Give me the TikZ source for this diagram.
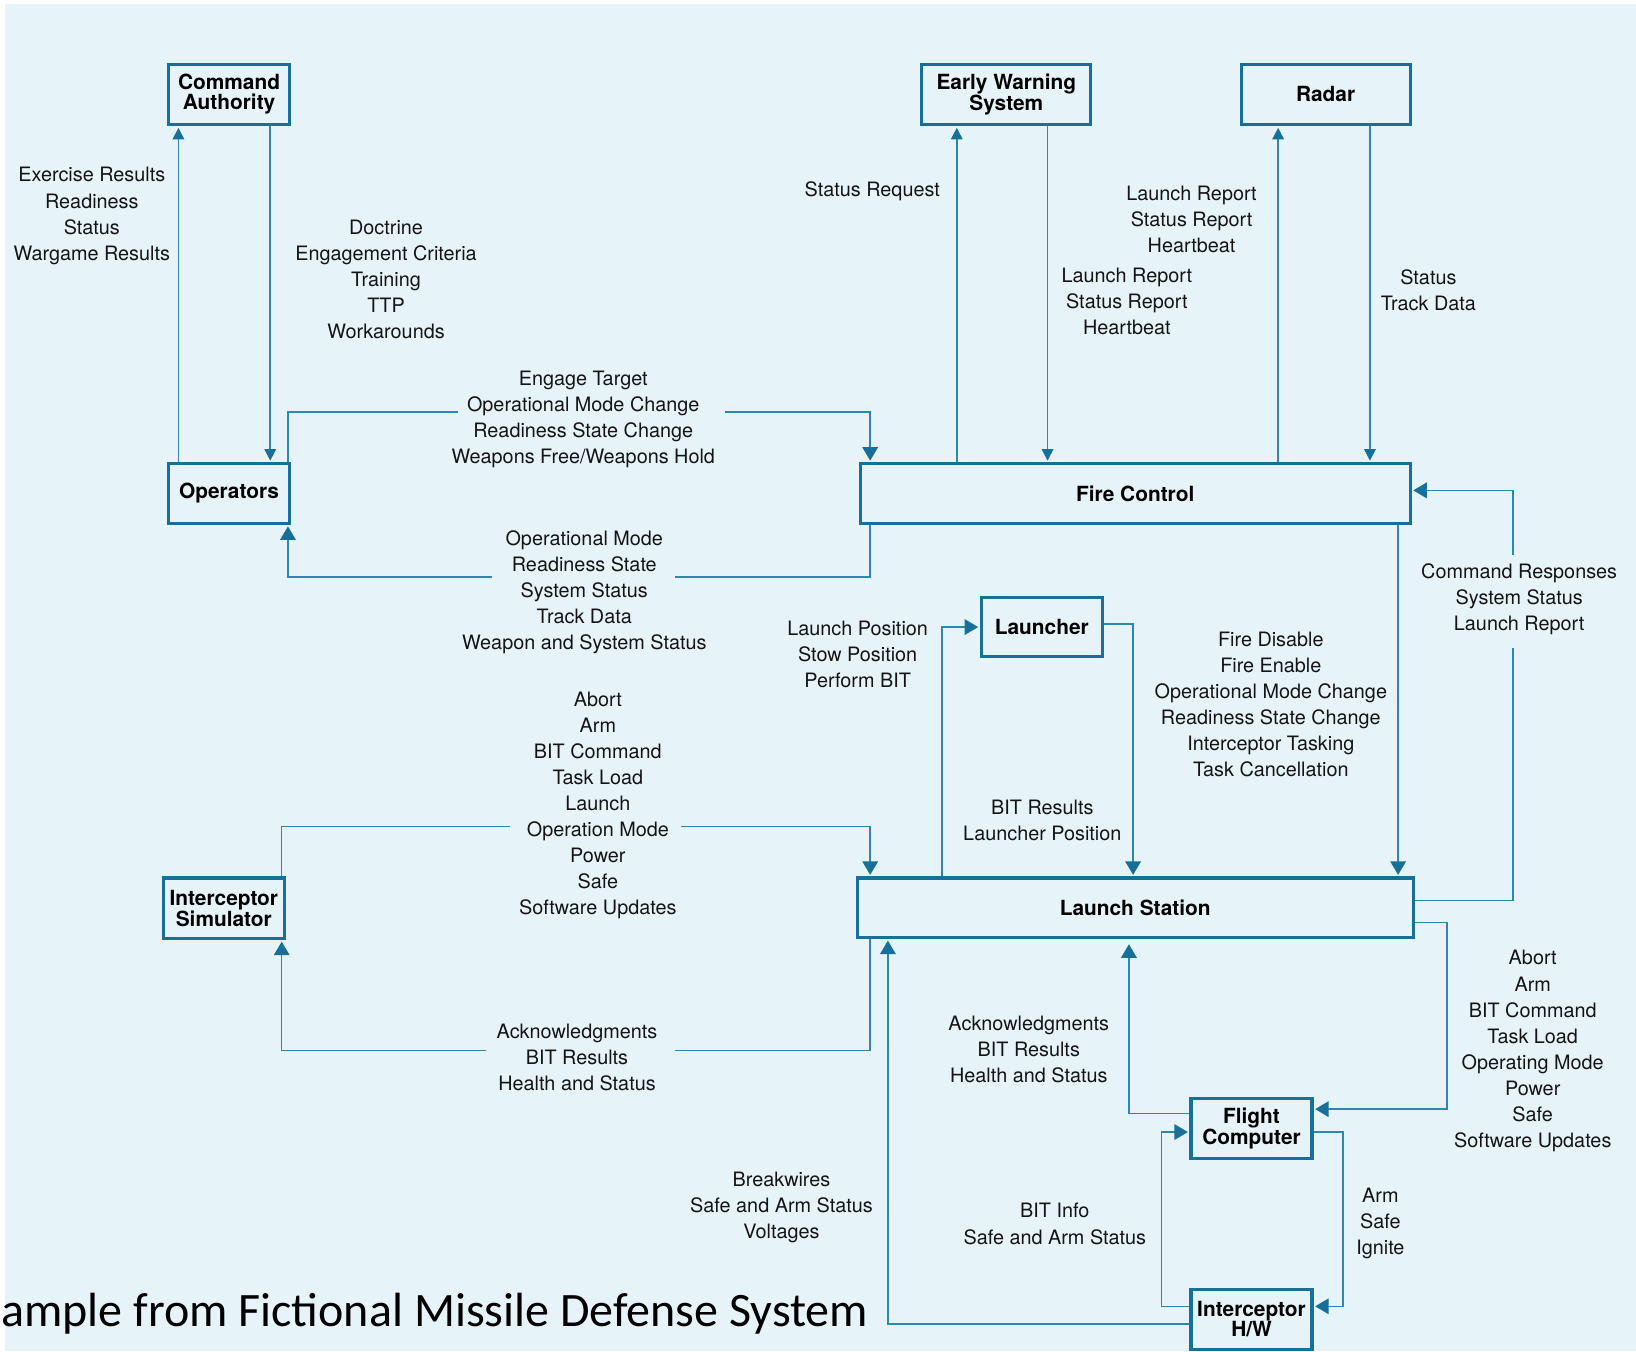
\documentclass[tikz,border=0pt]{standalone}
\usepackage{fontspec}
\setmainfont{TeX Gyre Heros}
\newfontfamily\titlefont{Carlito}
\usetikzlibrary{arrows.meta}
\definecolor{bgc}{HTML}{E6F4FA}
\definecolor{boxc}{HTML}{16709A}
\definecolor{linec}{HTML}{2D88B0}
\definecolor{txt}{HTML}{141414}
\tikzset{
  box/.style={draw=boxc, line width=3pt, fill=bgc, align=center, inner sep=0pt,
    text=black, font=\bfseries\fontsize{20}{19}\selectfont},
  conn/.style={draw=linec, line width=1.5pt, shorten >=1.5pt},
  bigtip/.style={-{Triangle[width=15pt,length=13pt,color=boxc]}},
  smalltip/.style={-{Triangle[width=11pt,length=11pt,color=boxc]}},
  lbl/.style={align=center, inner sep=0pt, yshift=-2.5pt, text=txt, font=\fontsize{19}{25}\selectfont},
}
\begin{document}
\begin{tikzpicture}[x=1pt, y=-1pt]
\useasboundingbox (0,0) rectangle (1568,1295);
\fill[white] (0,0) rectangle (1568,1295);
\fill[bgc] (5,4) rectangle (1568,1295);

% blocks
\node[box, minimum width=116pt, minimum height=58pt] (ca) at (219.5,90.5) {Command\\Authority};
\node[box, minimum width=116pt, minimum height=57pt] (op) at (219.5,473) {Operators};
\node[box, minimum width=162pt, minimum height=58pt] (ews) at (964.5,90.5) {Early Warning\\System};
\node[box, minimum width=162pt, minimum height=58pt] (radar) at (1270.5,90.5) {Radar};
\node[box, minimum width=527pt, minimum height=57pt] (fc) at (1088,473) {Fire Control};
\node[box, minimum width=116pt, minimum height=57pt] (launcher) at (998.5,601) {Launcher};
\node[box, minimum width=116pt, minimum height=58pt] (isim) at (214.5,870.5) {Interceptor\\Simulator};
\node[box, minimum width=533pt, minimum height=57pt] (ls) at (1088,870) {Launch Station};
\node[box, minimum width=116pt, minimum height=58pt] (flc) at (1199.5,1081.5) {Flight\\Computer};
\node[box, minimum width=116pt, minimum height=58pt] (ihw) at (1199.5,1264.5) {Interceptor\\H/W};

% ends of connectors broken by their labels
\coordinate (g3a) at (440,395);
\coordinate (g3b) at (695,395);
\coordinate (g4a) at (472,553);
\coordinate (g4b) at (645,553);
\coordinate (g9a) at (1450,620);
\coordinate (g9b) at (1450,532);
\coordinate (g13a) at (490,792);
\coordinate (g13b) at (653,792);
\coordinate (g14a) at (466,1007);
\coordinate (g14b) at (645,1007);

% command authority <-> operators
\draw[conn, smalltip] (op.north -| 171,0) -- (ca.south -| 171,0);
\node[lbl] at (88,204.5) {Exercise Results\\Readiness\\Status\\Wargame Results};
\draw[conn, smalltip] (ca.south -| 259,0) -- (op.north -| 259,0);
\node[lbl] at (370,265.5) {Doctrine\\Engagement Criteria\\Training\\TTP\\Workarounds};

% operators <-> fire control
\draw[conn] (op.north -| 276,0) |- (g3a);
\draw[conn, bigtip] (g3b) -| (fc.north -| 834,0);
\node[lbl] at (559,399.5) {Engage Target\\Operational Mode Change\\Readiness State Change\\Weapons Free/Weapons Hold};
\draw[conn] (fc.south -| 834,0) |- (g4b);
\draw[conn, bigtip] (g4a) -| (op.south -| 276,0);
\node[lbl] at (560,565) {Operational Mode\\Readiness State\\System Status\\Track Data\\Weapon and System Status};

% fire control <-> early warning system and radar
\draw[conn, smalltip] (fc.north -| 917,0) -- (ews.south -| 917,0);
\node[lbl] at (836,181) {Status Request};
\draw[conn, smalltip] (ews.south -| 1004,0) -- (fc.north -| 1004,0);
\node[lbl] at (1080,286) {Launch Report\\Status Report\\Heartbeat};
\draw[conn, smalltip] (fc.north -| 1225,0) -- (radar.south -| 1225,0);
\node[lbl] at (1142,208) {Launch Report\\Status Report\\Heartbeat};
\draw[conn, smalltip] (radar.south -| 1313,0) -- (fc.north -| 1313,0);
\node[lbl] at (1369,275.5) {Status\\Track Data};

% fire control <-> launch station
\draw[conn] (ls.east |- 0,863) -| (g9a);
\draw[conn, bigtip] (g9b) |- (fc.east |- 0,470);
\node[lbl] at (1456,572) {Command Responses\\System Status\\Launch Report};
\draw[conn, bigtip] (fc.south -| 1340,0) -- (ls.north -| 1340,0);
\node[lbl] at (1218,672.5) {Fire Disable\\Fire Enable\\Operational Mode Change\\Readiness State Change\\Interceptor Tasking\\Task Cancellation};

% launch station <-> launcher
\draw[conn, bigtip] (ls.north -| 903,0) |- (launcher.west);
\node[lbl] at (822,625) {Launch Position\\Stow Position\\Perform BIT};
\draw[conn, bigtip] (launcher.east |- 0,598) -| (ls.north -| 1086,0);
\node[lbl] at (999,783.5) {BIT Results\\Launcher Position};

% interceptor simulator <-> launch station
\draw[conn] (isim.north -| 270,0) |- (g13a);
\draw[conn, bigtip] (g13b) -| (ls.north -| 834,0);
\node[lbl] at (573,769.5) {Abort\\Arm\\BIT Command\\Task Load\\Launch\\Operation Mode\\Power\\Safe\\Software Updates};
\draw[conn] (ls.south -| 834,0) |- (g14b);
\draw[conn, bigtip] (g14a) -| (isim.south -| 270,0);
\node[lbl] at (553,1011) {Acknowledgments\\BIT Results\\Health and Status};

% flight computer <-> launch station
\draw[conn, bigtip, shorten >=5pt] (flc.west |- 0,1067) -| (ls.south -| 1082,0);
\node[lbl] at (986,1003) {Acknowledgments\\BIT Results\\Health and Status};
\draw[conn, bigtip] (ls.east |- 0,884) -| (1387,1063) -- (flc.east |- 0,1063);
\node[lbl] at (1469,1005) {Abort\\Arm\\BIT Command\\Task Load\\Operating Mode\\Power\\Safe\\Software Updates};

% interceptor hardware links
\draw[conn, bigtip] (ihw.west |- 0,1269) -| (ls.south -| 851,0);
\node[lbl] at (749,1155) {Breakwires\\Safe and Arm Status\\Voltages};
\draw[conn, bigtip] (ihw.west |- 0,1252) -| (1113,1085) -- (flc.west |- 0,1085);
\node[lbl] at (1011,1170.5) {BIT Info\\Safe and Arm Status};
\draw[conn, bigtip] (flc.east |- 0,1085) -| (1287,1252) -- (ihw.east |- 0,1252);
\node[lbl] at (1323,1170) {Arm\\Safe\\Ignite};

% caption
\node[anchor=base west, inner sep=0pt, text=black, font=\titlefont\fontsize{46}{52}\selectfont] (cap) at (1,1271) {ample from Fictional Missile Defense System};
\end{tikzpicture}
\end{document}
